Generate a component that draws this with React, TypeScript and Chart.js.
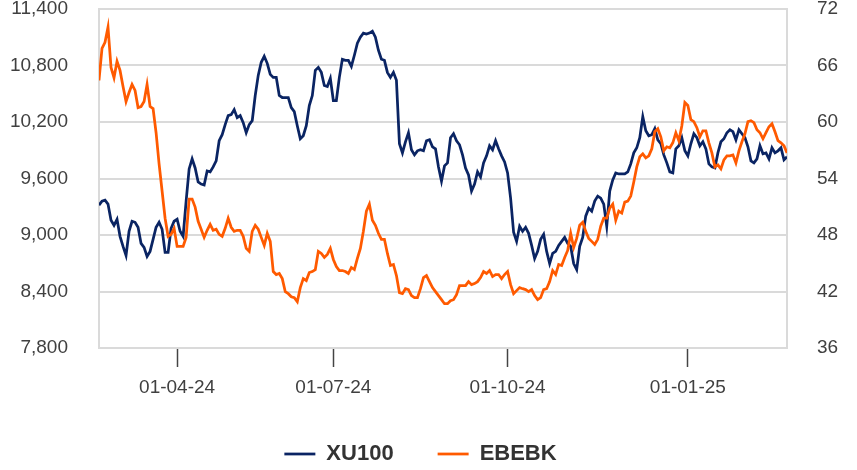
import { useEffect, useRef } from 'react';
import { Chart, registerables } from 'chart.js';

Chart.register(...registerables);

// XU100 index (left axis), one value per trading day
const xu100 = [
  9317, 9360, 9370, 9328, 9157, 9103, 9167, 8986, 8879, 8783,
  9039, 9146, 9135, 9082, 8911, 8868, 8772, 8826, 8954, 9082,
  9135, 9061, 8815, 8815, 9071, 9146, 9167, 9039, 8986, 9360,
  9702, 9808, 9712, 9563, 9541, 9531, 9680, 9670, 9723, 9787,
  10001, 10065, 10172, 10268, 10278, 10332, 10246, 10268, 10193, 10086,
  10172, 10214, 10481, 10695, 10834, 10898, 10823, 10706, 10674, 10674,
  10481, 10460, 10460, 10460, 10353, 10310, 10161, 10022, 10054, 10161,
  10375, 10481, 10748, 10780, 10727, 10588, 10577, 10663, 10428, 10428,
  10674, 10866, 10855, 10855, 10791, 10909, 11037, 11101, 11144, 11133,
  11144, 11165, 11101, 10962, 10866, 10855, 10727, 10674, 10727, 10642,
  9969, 9872, 9990, 10086, 9905, 9851, 9894, 9905, 9894, 10001,
  10011, 9937, 9915, 9723, 9573, 9734, 9766, 10033, 10075, 10001,
  9958, 9851, 9712, 9637, 9467, 9541, 9670, 9616, 9766, 9840,
  9947, 9905, 10001, 9915, 9840, 9776, 9659, 9392, 9029, 8932,
  9093, 9039, 9082, 9018, 8890, 8751, 8826, 8954, 9007, 8826,
  8697, 8804, 8826, 8890, 8932, 8975, 8911, 8879, 8697, 8633,
  8879, 8975, 9200, 9285, 9253, 9360, 9413, 9392, 9328, 9093,
  9467, 9584, 9659, 9648, 9648, 9648, 9670, 9755, 9872, 9926,
  10033, 10257, 10107, 10054, 10065, 10129, 10011, 9969, 9851, 9766,
  9670, 9659, 9915, 9947, 10033, 9894, 9840, 9969, 10075, 10033,
  9947, 9990, 9915, 9755, 9723, 9712, 9872, 9990, 10022, 10086,
  10118, 10097, 10011, 10118, 10075, 10033, 9937, 9787, 9766, 9808,
  9947, 9862, 9872, 9808, 9926, 9872, 9894, 9926, 9798, 9830,
];

// EBEBK share price (right axis)
const ebebk = [
  64.42, 67.83, 68.47, 70.08, 65.8, 64.7, 66.45, 65.48, 63.77, 62.17,
  63.13, 63.99, 63.35, 61.53, 61.64, 62.17, 63.99, 61.64, 61.42, 58.86,
  55.55, 52.67, 49.78, 47.86, 48.07, 48.71, 46.79, 46.79, 46.79, 47.75,
  51.81, 51.81, 50.96, 49.46, 48.61, 47.75, 48.5, 49.14, 48.5, 48.61,
  48.07, 47.86, 48.71, 49.78, 48.82, 48.39, 48.5, 48.5, 47.86, 46.58,
  46.26, 48.39, 49.03, 48.61, 47.75, 46.9, 48.18, 47.32, 44.12, 43.8,
  43.91, 43.37, 41.98, 41.77, 41.45, 41.34, 40.92, 42.41, 43.37, 43.16,
  44.01, 44.12, 44.33, 46.26, 46.04, 45.62, 45.94, 46.58, 45.4, 44.65,
  44.23, 44.23, 44.12, 43.91, 44.55, 44.33, 45.51, 46.58, 48.39, 50.53,
  51.28, 49.57, 49.03, 48.18, 47.54, 47.54, 46.04, 44.76, 44.87, 43.69,
  41.88, 41.77, 42.3, 42.2, 41.56, 41.34, 41.34, 42.3, 43.48, 43.69,
  43.05, 42.41, 41.98, 41.56, 41.13, 40.7, 40.7, 41.02, 41.13, 41.66,
  42.62, 42.62, 42.62, 43.05, 42.73, 42.84, 43.05, 43.48, 44.12, 43.91,
  44.23, 43.59, 43.8, 43.8, 43.37, 43.8, 44.12, 42.73, 41.77, 42.09,
  42.41, 42.3, 42.2, 41.98, 42.2, 41.56, 41.13, 41.34, 42.2, 42.3,
  43.05, 44.23, 43.8, 44.87, 44.76, 45.62, 46.36, 48.18, 46.68, 47.64,
  49.03, 49.35, 48.39, 47.64, 47.32, 47.0, 47.54, 48.93, 49.78, 49.78,
  50.85, 51.28, 49.57, 50.53, 50.32, 51.49, 51.6, 52.13, 53.63, 55.23,
  56.3, 56.62, 56.19, 56.4, 57.15, 58.97, 59.29, 58.43, 56.94, 57.37,
  57.26, 57.79, 58.86, 58.01, 59.61, 62.07, 61.75, 60.25, 60.04, 59.4,
  58.43, 59.07, 59.07, 57.79, 56.72, 55.23, 55.44, 55.02, 55.98, 56.4,
  56.4, 56.51, 55.66, 56.94, 57.9, 58.75, 60.04, 60.14, 59.93, 59.18,
  58.86, 58.22, 58.86, 59.5, 59.82, 58.97, 58.01, 57.79, 57.47, 56.72,
];

// x-axis tick labels and the trading-day index they sit on
const tickLabels = ['01-04-24', '01-07-24', '01-10-24', '01-01-25'];
const tickIndex = [26, 78, 136, 196];

const leftTicks = [7800, 8400, 9000, 9600, 10200, 10800, 11400];
const rightTicks = [36, 42, 48, 54, 60, 66, 72];

const NAVY = '#0A2463';
const ORANGE = '#FF5A00';
const GRID = '#DADADA';
const TEXT = '#404040';
const FONT = "'Liberation Sans', Arial, sans-serif";

const legendShift = {
  id: 'legendShift',
  afterLayout(chart: any) {
    const l = chart.legend;
    if (!l) return;
    l.left -= 8;
    l.right -= 8;
    l.top += 5;
    l.bottom += 5;
  },
};

export default function App() {
  const ref = useRef<HTMLCanvasElement>(null);

  useEffect(() => {
    if (!ref.current) return;
    const chart = new Chart(ref.current, {
      type: 'line',
      data: {
        labels: xu100.map((_, i) => i),
        datasets: [
          {
            label: 'XU100',
            data: xu100,
            yAxisID: 'y',
            borderColor: NAVY,
            backgroundColor: NAVY,
            borderWidth: 2.75,
            pointRadius: 0,
            tension: 0,
            order: 1,
          },
          {
            label: 'EBEBK',
            data: ebebk,
            yAxisID: 'y1',
            borderColor: ORANGE,
            backgroundColor: ORANGE,
            borderWidth: 2.75,
            pointRadius: 0,
            tension: 0,
            order: 0,
          },
        ],
      },
      plugins: [legendShift],
      options: {
        responsive: false,
        animation: false,
        layout: { padding: { top: 9, left: 0, right: 0, bottom: 0 } },
        plugins: {
          legend: {
            position: 'bottom',
            labels: {
              usePointStyle: true,
              pointStyle: 'line',
              pointStyleWidth: 31,
              padding: 44,
              color: '#333333',
              font: { family: FONT, size: 22, weight: 'bold' },
              sort: (a: any, b: any) => a.datasetIndex - b.datasetIndex,
            },
          },
          tooltip: { enabled: false },
        },
        scales: {
          x: {
            type: 'linear',
            min: 0,
            max: xu100.length - 1,
            afterBuildTicks: (s: any) => {
              s.ticks = tickIndex.map((v) => ({ value: v }));
            },
            afterFit: (s: any) => {
              s.height = 46;
              s.paddingLeft = 0;
              s.paddingRight = 0;
            },
            ticks: {
              autoSkip: false,
              maxRotation: 0,
              padding: 9,
              color: TEXT,
              font: { family: FONT, size: 19 },
              callback: (v: any) => {
                const k = tickIndex.indexOf(Number(v));
                return k >= 0 ? tickLabels[k] : '';
              },
            },
            grid: {
              drawOnChartArea: false,
              tickLength: 19,
              tickColor: '#444444',
              tickWidth: 1.5,
            },
            border: { color: GRID, width: 2 },
          },
          y: {
            position: 'left',
            min: 7800,
            max: 11400,
            afterBuildTicks: (s: any) => {
              s.ticks = leftTicks.map((v) => ({ value: v }));
            },
            afterFit: (s: any) => {
              s.width = 99;
              s.paddingTop = 0;
              s.paddingBottom = 0;
            },
            ticks: {
              padding: 31,
              color: TEXT,
              font: { family: FONT, size: 19 },
              callback: (v: any) => Number(v).toLocaleString('en-US'),
            },
            grid: { color: GRID, lineWidth: 2, drawTicks: false },
            border: { color: GRID, width: 2 },
          },
          y1: {
            position: 'right',
            min: 36,
            max: 72,
            afterBuildTicks: (s: any) => {
              s.ticks = rightTicks.map((v) => ({ value: v }));
            },
            afterFit: (s: any) => {
              s.width = 70;
              s.paddingTop = 0;
              s.paddingBottom = 0;
            },
            ticks: {
              padding: 30,
              color: TEXT,
              font: { family: FONT, size: 19 },
              callback: (v: any) => String(v),
            },
            grid: { display: false, drawTicks: false },
            border: { color: GRID, width: 2 },
          },
        },
      },
    });
    return () => chart.destroy();
  }, []);

  return (
    <div style={{ position: 'absolute', left: 0, top: 0, width: 857, height: 470, background: '#ffffff' }}>
      <canvas ref={ref} width={857} height={470} />
    </div>
  );
}
